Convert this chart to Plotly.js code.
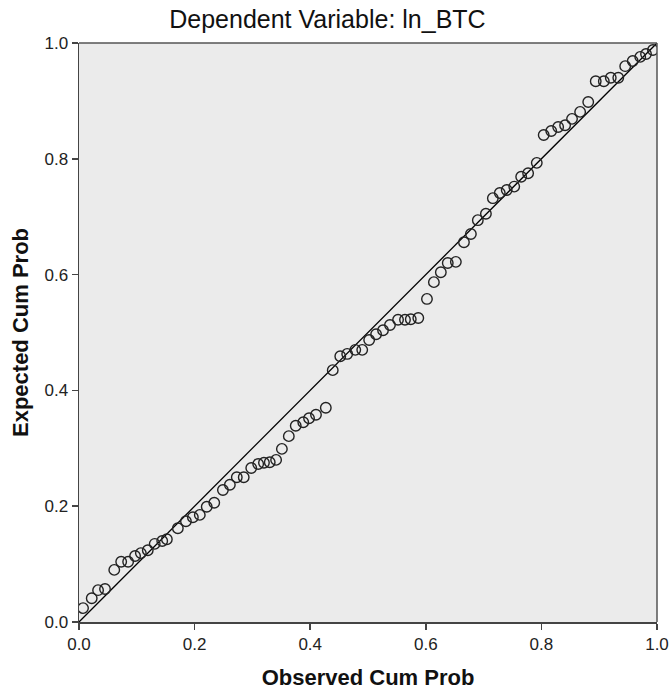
<!DOCTYPE html>
<html>
<head>
<meta charset="utf-8">
<script src="https://cdn.plot.ly/plotly-3.0.1.min.js"></script>
<style>html,body{margin:0;padding:0;background:#fff;}#chart{width:671px;height:690px;}</style>
</head>
<body>
<div id="chart"></div>
<script>
const observedCumProb = [0.007,0.022,0.033,0.045,0.061,0.073,0.085,0.097,0.107,0.119,0.131,0.144,0.152,
  0.171,0.185,0.197,0.209,0.221,0.234,0.249,0.261,0.273,0.285,0.298,0.310,0.320,0.330,0.341,0.351,
  0.363,0.375,0.388,0.398,0.410,0.427,0.439,0.452,0.464,0.478,0.490,0.502,0.514,0.526,0.538,0.552,
  0.564,0.574,0.587,0.602,0.614,0.626,0.638,0.652,0.666,0.678,0.690,0.704,0.716,0.728,0.740,0.753,
  0.765,0.777,0.792,0.804,0.817,0.829,0.841,0.853,0.867,0.881,0.894,0.908,0.920,0.933,0.945,0.958,
  0.971,0.981,0.993];
const expectedCumProb = [0.024,0.041,0.055,0.057,0.090,0.104,0.104,0.114,0.119,0.124,0.135,0.140,0.143,
  0.162,0.174,0.181,0.185,0.199,0.206,0.228,0.237,0.250,0.250,0.266,0.273,0.275,0.276,0.280,0.299,
  0.321,0.339,0.345,0.352,0.358,0.370,0.435,0.459,0.463,0.470,0.470,0.487,0.497,0.504,0.513,0.522,
  0.522,0.523,0.525,0.558,0.587,0.604,0.620,0.622,0.656,0.670,0.694,0.705,0.732,0.741,0.746,0.752,
  0.769,0.775,0.793,0.841,0.848,0.855,0.858,0.869,0.881,0.898,0.934,0.934,0.940,0.940,0.960,0.969,
  0.976,0.981,0.988];
const refLine = [0, 1];
const tickVals = [0, 0.2, 0.4, 0.6, 0.8, 1.0];
const tickText = ['0.0','0.2','0.4','0.6','0.8','1.0'];

const FONT = 'Liberation Sans, Arial, sans-serif';
const traces = [
  {x: refLine, y: refLine, mode: 'lines', line: {color: '#000', width: 1.3}, hoverinfo: 'skip'},
  {x: observedCumProb, y: expectedCumProb, mode: 'markers',
   marker: {symbol: 'circle-open', size: 10.5, color: '#222', line: {width: 1.4, color: '#222'}}}
];
const axisCommon = {
  range: [0, 1], tickvals: tickVals, ticktext: tickText, showgrid: false, zeroline: false,
  showline: true, linecolor: '#444', linewidth: 1.5, ticks: 'outside', ticklen: 6, tickwidth: 1.5,
  tickcolor: '#444', mirror: false, fixedrange: true,
  tickfont: {family: FONT, size: 17, color: '#222'}
};
const layout = {
  width: 671, height: 690,
  margin: {l: 79, r: 14, t: 43, b: 68},
  paper_bgcolor: '#fff', plot_bgcolor: '#ebebeb',
  showlegend: false,
  title: {text: 'Dependent Variable: ln_BTC', x: 0.488, xref: 'container', xanchor: 'center',
    y: 0.972, yref: 'container', yanchor: 'middle',
    font: {family: FONT, size: 25, color: '#111'}},
  xaxis: Object.assign({}, axisCommon, {
    title: {text: '<b>Observed Cum Prob</b>', standoff: 17,
      font: {family: FONT, size: 22, color: '#111'}}}),
  yaxis: Object.assign({}, axisCommon, {
    title: {text: '<b>Expected Cum Prob</b>', standoff: 10,
      font: {family: FONT, size: 22, color: '#111'}}}),
  shapes: [
    {type: 'line', xref: 'paper', yref: 'paper', x0: 0, x1: 1, y0: 1, y1: 1, line: {color: '#555', width: 1.5}},
    {type: 'line', xref: 'paper', yref: 'paper', x0: 1, x1: 1, y0: 0, y1: 1, line: {color: '#555', width: 1.5}}
  ]
};
Plotly.newPlot('chart', traces, layout, {displayModeBar: false, staticPlot: true});
</script>
</body>
</html>
